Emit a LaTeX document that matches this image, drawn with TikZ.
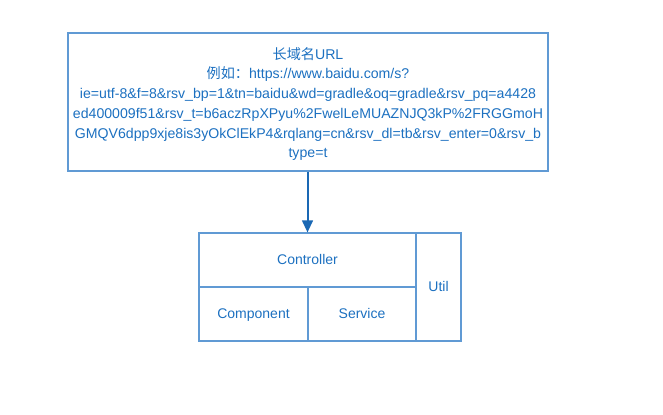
\documentclass[tikz,border=0pt]{standalone}
\usepackage{fontspec}
\setmainfont{Liberation Sans}
\newfontfamily\cjk{Noto Sans CJK SC}
\usetikzlibrary{arrows.meta, positioning}
\definecolor{linkblue}{RGB}{28,112,192}
\definecolor{frameblue}{RGB}{96,154,212}
\definecolor{arrowblue}{RGB}{26,104,180}

\begin{document}
\begin{tikzpicture}[x=0.75pt, y=-0.75pt,
        block/.style={draw=frameblue, line width=0.8pt, text=linkblue, inner sep=0pt,
                      font=\fontsize{10.5}{14.7}\selectfont}]%{{{
                \useasboundingbox (0, 0) rectangle (663, 414);

                \node (URL) [block, minimum width=360pt, minimum height=103.5pt, align=center] at (308, 102) {};
                \node (URLText) [text=linkblue, inner sep=0pt, align=center, font=\fontsize{10.6}{14.8}\selectfont] at (308, 104) {
                        {\cjk 长域名}URL\\
                        {\cjk 例如：}https://www.baidu.com/s?\\
                        ie=utf-8\&f=8\&rsv\_bp=1\&tn=baidu\&wd=gradle\&oq=gradle\&rsv\_pq=a4428\\
                        ed400009f51\&rsv\_t=b6aczRpXPyu\%2FwelLeMUAZNJQ3kP\%2FRGGmoH\\
                        GMQV6dpp9xje8is3yOkClEkP4\&rqlang=cn\&rsv\_dl=tb\&rsv\_enter=0\&rsv\_b\\
                        type=t};

                \node (Controller) [block, text height=1.6ex, text depth=0.4ex, minimum width=162.75pt, minimum height=40.5pt] at (307.5, 260) { Controller };
                \node (Component) [block, text height=1.6ex, text depth=0.4ex, minimum width=81.75pt, minimum height=40.5pt] at (253.5, 314) { Component };
                \node (Service) [block, text height=1.6ex, text depth=0.4ex, minimum width=81pt, minimum height=40.5pt] at (362, 314) { Service };
                \node (Util) [block, text height=1.6ex, text depth=0.4ex, minimum width=33.75pt, minimum height=81pt] at (438.5, 287) { Util };

                \draw [color = arrowblue, line width = 1.5pt, -{Triangle[length=9pt, width=8pt]}] (URL.south -| Controller.north) -- (Controller.north);
            \end{tikzpicture}
\end{document}
